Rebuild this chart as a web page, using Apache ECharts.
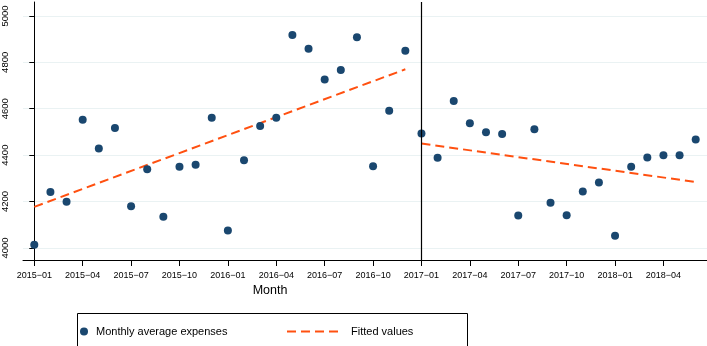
<!DOCTYPE html>
<html>
<head>
<meta charset="utf-8">
<script src="https://cdn.jsdelivr.net/npm/echarts@6/dist/echarts.min.js"></script>
<style>
  html, body { margin: 0; padding: 0; background: #fff; }
  #chart { width: 707px; height: 346px; }
</style>
</head>
<body>
<div id="chart"></div>
<script>
// monthly average expenses, 2015-01 .. 2018-06 (month index 0..41)
var months = [
  '2015-01','2015-02','2015-03','2015-04','2015-05','2015-06','2015-07','2015-08','2015-09','2015-10','2015-11','2015-12',
  '2016-01','2016-02','2016-03','2016-04','2016-05','2016-06','2016-07','2016-08','2016-09','2016-10','2016-11','2016-12',
  '2017-01','2017-02','2017-03','2017-04','2017-05','2017-06','2017-07','2017-08','2017-09','2017-10','2017-11','2017-12',
  '2018-01','2018-02','2018-03','2018-04','2018-05','2018-06'
];
var expenses = [
  4014, 4241, 4199, 4552, 4429, 4517, 4180, 4339, 4134, 4350, 4359, 4561,
  4075, 4378, 4526, 4561, 4918, 4859, 4726, 4767, 4908, 4352, 4591, 4850,
  4493, 4389, 4633, 4537, 4499, 4491, 4140, 4512, 4195, 4141, 4243, 4282,
  4053, 4350, 4390, 4399, 4399, 4467
];
// fitted values: endpoints of the two segments [monthIndex, value]
var fitBefore = [[0, 4177], [23, 4770]];
var fitAfter = [[24, 4450], [41, 4284]];
var breakMonth = 24; // 2017-01

var xTicks = [0, 3, 6, 9, 12, 15, 18, 21, 24, 27, 30, 33, 36, 39];
var xTickLabels = ['2015−01','2015−04','2015−07','2015−10','2016−01','2016−04','2016−07',
                   '2016−10','2017−01','2017−04','2017−07','2017−10','2018−01','2018−04'];
var yTicks = [4000, 4200, 4400, 4600, 4800, 5000];

var navy = '#1a476f';
var orange = '#ff5010';
var font = '"Liberation Sans", Arial, Helvetica, sans-serif';

var chart = echarts.init(document.getElementById('chart'));

var option = {
  animation: false,
  backgroundColor: '#fff',
  grid: { left: 23, right: 0, top: 2, bottom: 86 },
  xAxis: {
    type: 'value',
    min: -0.7,
    max: 41.7,
    axisLine: { show: true, lineStyle: { color: '#000', width: 1 } },
    axisTick: { show: true, length: 6, customValues: xTicks, lineStyle: { color: '#000' } },
    axisLabel: {
      customValues: xTicks,
      margin: 11,
      fontFamily: font,
      fontSize: 9,
      color: '#000',
      formatter: function (v) { return xTickLabels[xTicks.indexOf(v)]; }
    },
    splitLine: { show: false }
  },
  yAxis: {
    type: 'value',
    min: 3948,
    max: 5060,
    axisLine: { show: true, lineStyle: { color: '#000', width: 1 } },
    axisTick: { show: true, length: 5, customValues: yTicks, lineStyle: { color: '#000' } },
    axisLabel: {
      customValues: yTicks,
      rotate: 90,
      margin: 13,
      fontFamily: font,
      fontSize: 9.5,
      color: '#000',
      formatter: function (v) { return String(v); }
    },
    splitLine: { show: true, lineStyle: { color: '#eaf2f3', width: 1 } }
  },
  legend: [
    {
      data: ['Monthly average expenses'],
      left: 75,
      top: 321,
      itemWidth: 14,
      itemHeight: 8,
      icon: 'circle',
      textStyle: { fontFamily: font, fontSize: 11, color: '#000' }
    },
    {
      data: ['Fitted values'],
      left: 281,
      top: 321,
      itemWidth: 51,
      itemHeight: 8,
      itemStyle: { color: 'rgba(0,0,0,0)', borderWidth: 0 },
      textStyle: { fontFamily: font, fontSize: 11, color: '#000', padding: [0, 0, 0, 8] }
    }
  ],
  graphic: [
    {
      type: 'rect',
      left: 75,
      top: 311,
      shape: { width: 390, height: 34 },
      style: { fill: 'none', stroke: '#000', lineWidth: 1 }
    },
    {
      type: 'text',
      x: 270,
      y: 291,
      style: {
        text: 'Month',
        fontFamily: font,
        fontSize: 12.5,
        fill: '#000',
        align: 'center',
        verticalAlign: 'middle'
      }
    }
  ],
  series: [
    {
      name: 'Monthly average expenses',
      type: 'scatter',
      symbol: 'circle',
      symbolSize: 8,
      itemStyle: { color: navy, opacity: 1 },
      data: months.map(function (m, i) { return [i, expenses[i]]; }),
      markLine: {
        silent: true,
        symbol: 'none',
        label: { show: false },
        lineStyle: { color: '#000', width: 1.2, type: 'solid' },
        data: [{ xAxis: breakMonth }]
      },
      z: 3
    },
    {
      name: 'Fitted values',
      type: 'line',
      symbol: 'none',
      lineStyle: { color: orange, width: 2, type: [9, 5] },
      itemStyle: { color: orange },
      data: fitBefore,
      z: 2
    },
    {
      name: 'Fitted values',
      type: 'line',
      symbol: 'none',
      lineStyle: { color: orange, width: 2, type: [9, 5] },
      itemStyle: { color: orange },
      data: fitAfter,
      z: 2
    }
  ]
};

chart.setOption(option);
window.addEventListener('resize', function () { chart.resize(); });
</script>
</body>
</html>
